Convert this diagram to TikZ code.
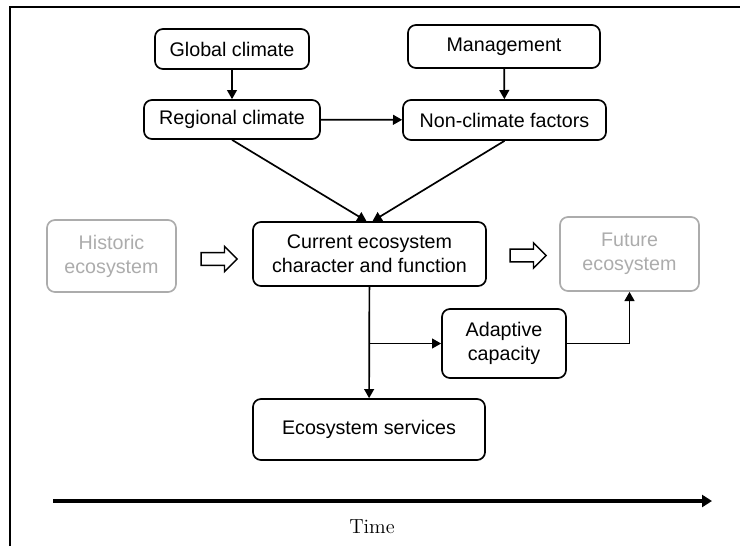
\documentclass[tikz,border=0pt]{standalone}
\usepackage{fontspec}
\setsansfont{Liberation Sans}
\usepackage{tikz}
\usetikzlibrary{calc,arrows.meta,shapes.arrows}
\definecolor{pastgray}{RGB}{172,172,172}
\tikzset{
	box/.style={draw, line width=1.2pt, rounded corners=0.2cm, align=center, inner sep=0pt,
		font=\sffamily\fontsize{14}{17}\selectfont},
	pastbox/.style={box, draw=pastgray, text=pastgray},
	link/.style={line width=1.2pt, -{Triangle[length=6.5pt,width=7pt]}},
	hollow/.style={single arrow, draw, line width=1pt, fill=white, inner xsep=0pt, inner ysep=0.14cm,
		minimum height=0.9cm, single arrow head extend=0.16cm},
	frame/.style={line width=1.5pt},
	timeline/.style={line width=2.8pt, -{Triangle[length=0.25cm,width=0.3cm]}}
}

\begin{document}
\begin{tikzpicture}[x=0.025cm, y=-0.025cm]
		%%%%% START %%%%%
		\useasboundingbox (0, 0) rectangle (740, 546);
		\draw[frame] (10, 546) -- (10, 7) -- (740, 7);
		
		% drivers
		\node[box, minimum width=3.85cm, minimum height=1cm] (glob) at (232, 49) {Global climate};
		\node[box, minimum width=4.4cm, minimum height=0.975cm] (reg) at (232, 119.5) {Regional climate};
		\node[box, minimum width=4.8cm, minimum height=1.075cm] (mgmt) at (504, 46.5) {Management};
		\node[box, minimum width=5.075cm, minimum height=1cm] (ncf) at (504.5, 120) {Non-climate factors};
		
		% ecosystem through time
		\node[pastbox, minimum width=3.225cm, minimum height=1.8cm] (hist) at (111.5, 256) {Historic\\ecosystem};
		\node[box, minimum width=5.825cm, minimum height=1.6cm] (cur) at (369.5, 254) {Current ecosystem\\character and function};
		\node[pastbox, minimum width=3.475cm, minimum height=1.85cm] (fut) at (629.5, 254) {Future\\ecosystem};
		\node[hollow] (histcur) at (216, 259) {};
		\node[hollow] (curfut) at (525, 255.5) {};
		
		\node[box, minimum width=3.1cm, minimum height=1.725cm] (adapt) at (504, 343.5) {Adaptive\\capacity};
		\node[box, minimum width=5.8cm, minimum height=1.525cm] (serv) at (369, 429.5) {Ecosystem services};
		
		\draw[link] (glob) -- (reg);
		\draw[link] (mgmt) -- (ncf);
		\draw[link] (reg) -- (ncf);
		\draw[link] (reg.south) -- ($(cur.north)+(-3, 0)$);
		\draw[link] (ncf.south) -- ($(cur.north)+(3, 0)$);
		\draw[link] (cur) -- (serv);
		\coordinate (split) at (cur.south |- adapt.west);
		\draw[link] (split) -- (adapt.west);
		\draw[link] (adapt.east) -| (fut.south);
		
		% time axis
		\coordinate (t0) at (53, 501);
		\coordinate (t1) at (712, 501);
		\draw[timeline] (t0) -- (t1);
		\node[font=\fontsize{14.5}{17}\selectfont] (time) at (372, 527) {Time};
		%%%%% END %%%%%
\end{tikzpicture}
\end{document}
